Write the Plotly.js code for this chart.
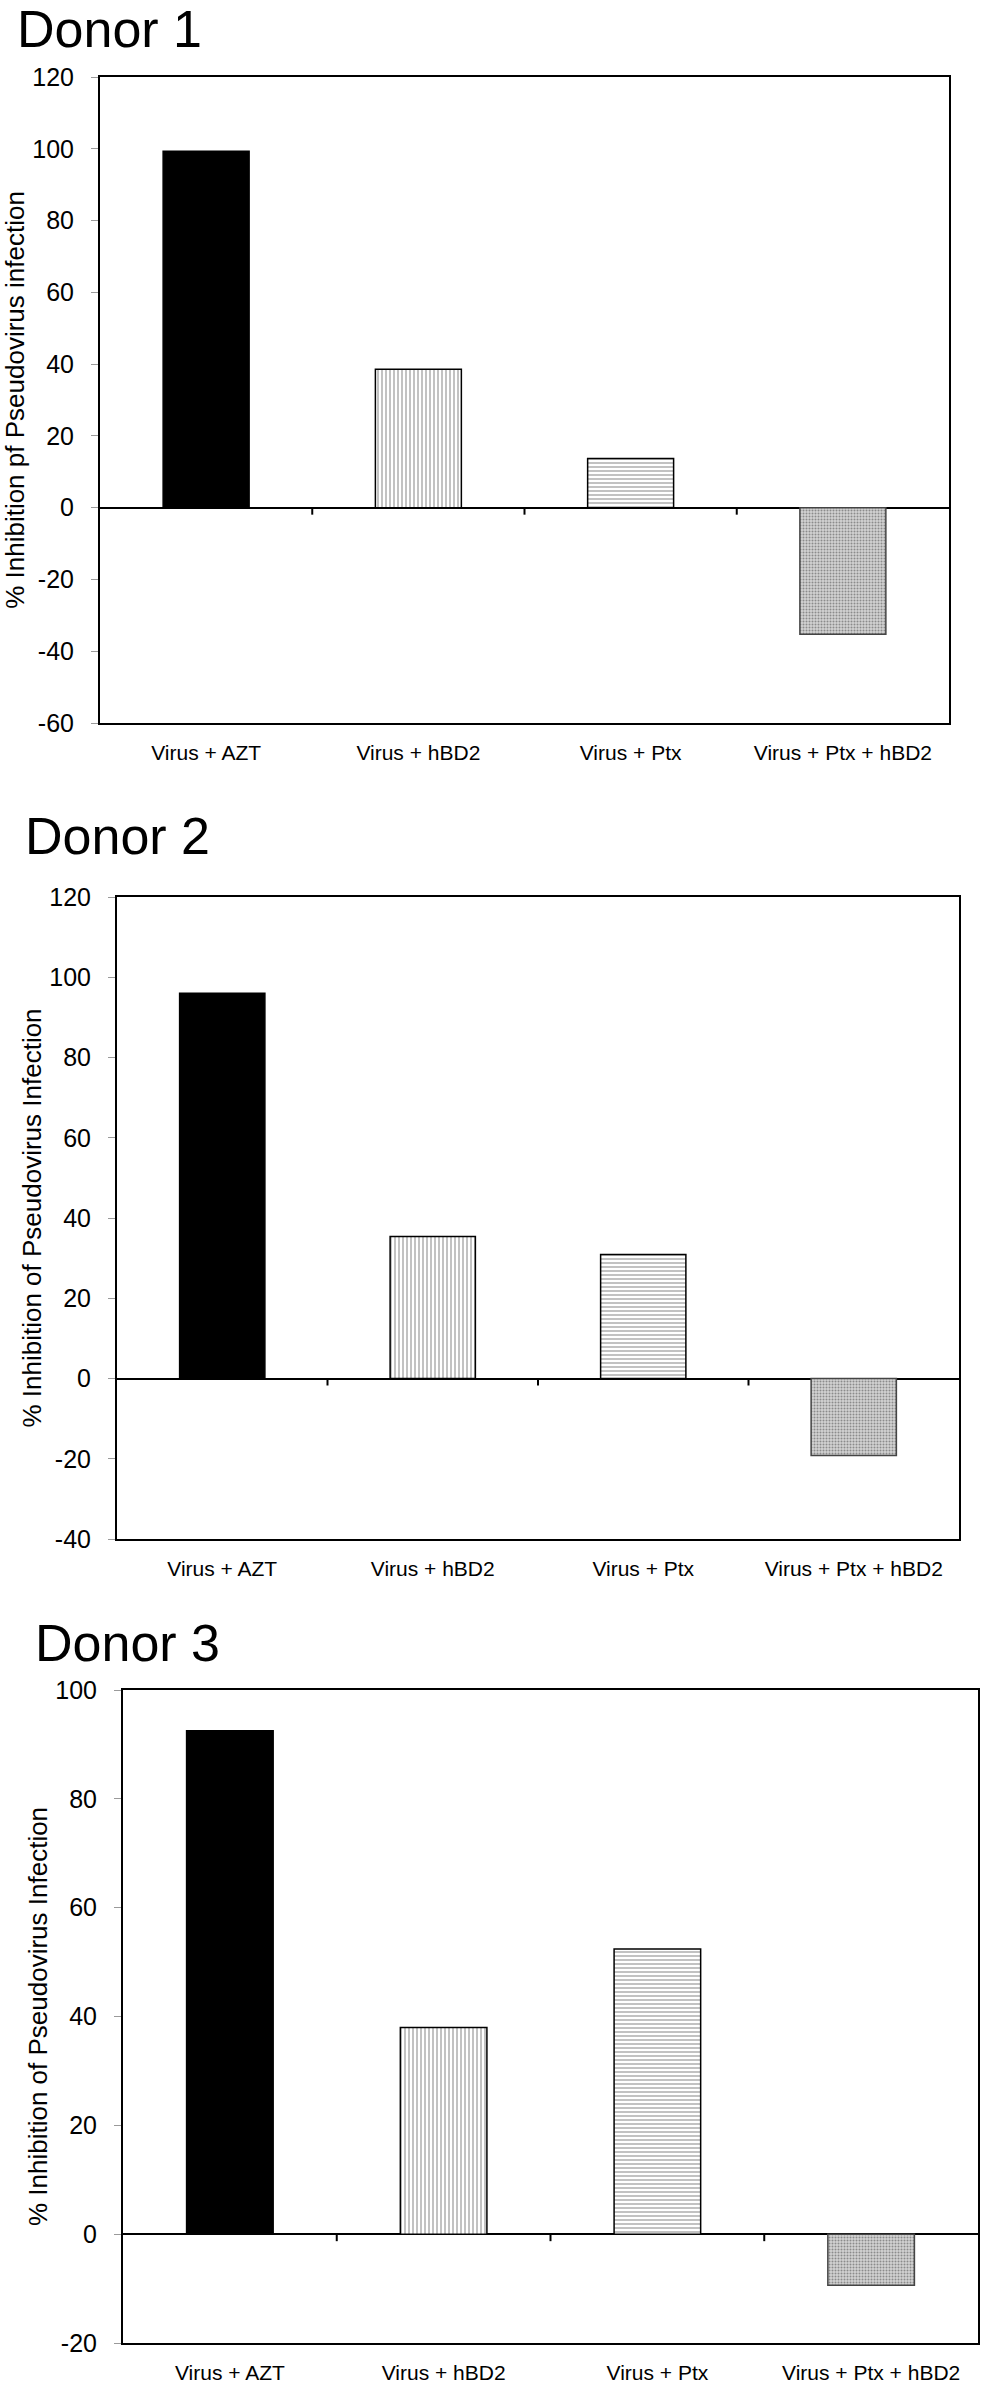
<!DOCTYPE html>
<html>
<head>
<meta charset="utf-8">
<script src="https://cdn.plot.ly/plotly-3.0.1.min.js"></script>
<style>
  body { margin: 0; background: #fff; }
  #chart { width: 987px; height: 2392px; }
</style>
</head>
<body>
<div id="chart"></div>
<script>
var categories = ['Virus + AZT', 'Virus + hBD2', 'Virus + Ptx', 'Virus + Ptx + hBD2'];
var donor1 = [99.3, 38.6, 13.7, -35.3];
var donor2 = [96.0, 35.4, 30.9, -19.2];
var donor3 = [92.5, 38.0, 52.4, -9.4];
var donorNames = ['Donor 1', 'Donor 2', 'Donor 3'];
var yTitles = ['% Inhibition pf Pseudovirus infection',
               '% Inhibition of Pseudovirus Infection',
               '% Inhibition of Pseudovirus Infection'];
var yRanges = [[-60, 120], [-40, 120], [-20, 100]];
var yStep = 20;

var W = 987, H = 2392;
var font = 'Liberation Sans, Arial, sans-serif';

// plot boxes in pixels: left, right, top, bottom
var boxes = [
  [100, 949, 77, 723],
  [117, 959, 897, 1539],
  [123, 978, 1690, 2343]
];
var titlePos = [[15, 29], [23, 836], [33, 1643]];

function px(x) { return x / W; }
function py(y) { return 1 - y / H; }

var allValues = [donor1, donor2, donor3];
var data = [];
var layout = {
  width: W, height: H,
  margin: {l: 0, r: 0, t: 0, b: 0},
  paper_bgcolor: 'white',
  plot_bgcolor: 'white',
  showlegend: false,
  font: {family: font, color: 'black'},
  annotations: [],
  shapes: []
};

for (var i = 0; i < 3; i++) {
  var n = i + 1;
  var xs = n === 1 ? '' : String(n);
  var b = boxes[i];
  var r = yRanges[i];

  data.push({
    type: 'bar',
    x: categories,
    y: allValues[i],
    xaxis: 'x' + xs,
    yaxis: 'y' + xs,
    width: 0.405,
    hoverinfo: 'none',
    marker: {
      color: ['black', 'white', 'white', '#d2d2d2'],
      line: {color: ['black', 'black', 'black', '#444'], width: 1.5},
      pattern: {
        shape: ['', '|', '-', '.'],
        fillmode: 'overlay',
        fgcolor: ['black', 'black', 'black', '#7a7a7a'],
        size: [8, 4, 4, 3],
        solidity: [0.3, 0.33, 0.33, 0.35]
      }
    }
  });

  var tv = [], tt = [];
  for (var v = r[0]; v <= r[1]; v += yStep) { tv.push(v); tt.push(String(v)); }

  layout['xaxis' + xs] = {
    domain: [px(b[0]), px(b[1])],
    anchor: 'y' + xs,
    type: 'category',
    categoryarray: categories,
    range: [-0.5, categories.length - 0.5],
    ticks: '',
    showline: true, mirror: true, linecolor: 'black', linewidth: 2,
    showgrid: false, zeroline: false,
    tickfont: {family: font, size: 21, color: 'black'},
    ticklabelstandoff: 10,
    fixedrange: true
  };
  layout['yaxis' + xs] = {
    domain: [py(b[3]), py(b[2])],
    anchor: 'x' + xs,
    range: r,
    tickmode: 'array',
    tickvals: tv,
    ticktext: tt,
    showline: true, mirror: true, linecolor: 'black', linewidth: 2,
    ticks: 'outside', ticklen: 7, tickcolor: '#9a9a9a', tickwidth: 1,
    showgrid: false,
    zeroline: true, zerolinecolor: 'black', zerolinewidth: 2,
    tickfont: {family: font, size: 25, color: 'black'},
    ticklabelstandoff: 12,
    title: {text: yTitles[i], font: {family: font, size: 26, color: 'black'}, standoff: 0},
    automargin: false,
    fixedrange: true
  };

  // little ticks hanging under the zero line, between the categories
  for (var k = 1; k < categories.length; k++) {
    layout.shapes.push({
      type: 'line', xref: 'x' + xs, yref: 'y' + xs,
      x0: k - 0.5, x1: k - 0.5,
      ysizemode: 'pixel', yanchor: 0, y0: 0, y1: -7,
      line: {color: 'black', width: 2}
    });
  }

  layout.annotations.push({
    text: donorNames[i],
    xref: 'paper', yref: 'paper',
    x: px(titlePos[i][0]), y: py(titlePos[i][1]),
    xanchor: 'left', yanchor: 'middle',
    showarrow: false,
    font: {family: font, size: 52, color: 'black'}
  });
}

Plotly.newPlot('chart', data, layout, {displayModeBar: false, staticPlot: true});
</script>
</body>
</html>
